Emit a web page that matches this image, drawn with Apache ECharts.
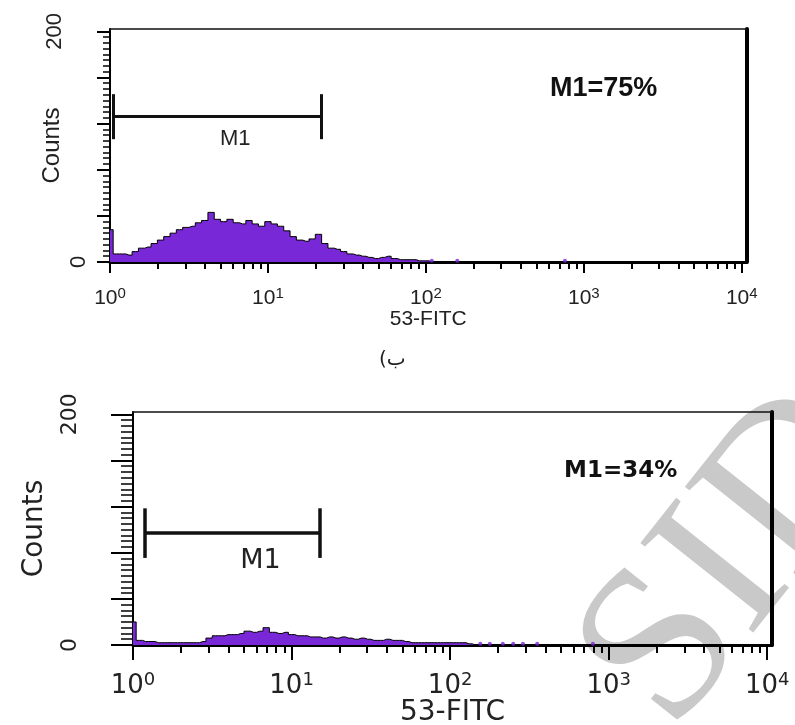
<!DOCTYPE html>
<html>
<head>
<meta charset="utf-8">
<script src="https://cdn.jsdelivr.net/npm/echarts@6/dist/echarts.min.js"></script>
<style>
html, body { margin: 0; padding: 0; background: #fff; }
#chart { width: 795px; height: 725px; }
</style>
</head>
<body>
<div id="chart"></div>
<script>
// channel bins are 0.04 decade wide, starting at 10^0
var binStep = 0.04;
var topCounts = [28, 7, 7, 6, 9, 12, 13, 16, 19, 22, 25, 28, 30, 31, 34, 36, 43, 37, 35, 37,
    34, 33, 36, 33, 31, 35, 33, 31, 27, 22, 19, 18, 20, 24, 16, 12, 11, 9, 7, 6,
    5, 4, 3, 4, 5, 3, 2, 2, 2, 1, 1, 0, 0];
var bottomCounts = [20, 4, 3, 3, 2, 2, 2, 2, 2, 2, 2, 3, 6, 8, 8, 9, 9, 10, 12, 11,
    12, 15, 11, 10, 11, 9, 8, 8, 7, 7, 6, 7, 6, 7, 6, 5, 6, 5, 4, 4,
    5, 4, 4, 3, 2, 2, 2, 2, 2, 2, 2, 2, 2, 1, 0, 0];
// single events further right
var topDots = [109, 158, 759];
var bottomDots = [155, 178, 215, 250, 288, 354, 795];

var decades = [1, 10, 100, 1000, 10000];
var minorTicks = [2, 3, 4, 5, 6, 7, 8, 9, 20, 30, 40, 50, 60, 70, 80, 90,
    200, 300, 400, 500, 600, 700, 800, 900, 2000, 3000, 4000, 5000, 6000, 7000, 8000, 9000];
var yLabelLow = [0];
var yLabelHigh = [200];
var yMajor = [0, 40, 80, 120, 160, 200];
var yMinor = [5, 10, 15, 20, 25, 30, 35, 45, 50, 55, 60, 65, 70, 75, 85, 90, 95, 100, 105, 110, 115,
    125, 130, 135, 140, 145, 150, 155, 165, 170, 175, 180, 185, 190, 195];

// M1 gates: [left, right] on FITC, height in counts
var topGate = [1.05, 21.7], topGateY = 126, topGateBar = 19.5;
var bottomGate = [1.19, 15.1], bottomGateY = 97, bottomGateBar = 21.5;

var xMax = Math.pow(10, 4.03);
var yMax = 202;
var purple = '#7828d6';

function histData(counts) {
    var d = [];
    for (let k = 0; k < counts.length; k++) {
        d.push([Math.pow(10, k * binStep), counts[k]]);
    }
    return d;
}

function gateLines(g, y, h, labelOffset, fs, ff, dist) {
    return [
        [{ coord: [g[0], y], label: { show: true, formatter: 'M1', position: 'insideMiddleBottom',
            offset: [labelOffset, 0], color: '#222', fontSize: fs, fontFamily: ff, distance: dist } },
         { coord: [g[1], y] }],
        [{ coord: [g[0], y - h] }, { coord: [g[0], y + h] }],
        [{ coord: [g[1], y - h] }, { coord: [g[1], y + h] }]
    ];
}

function labelFmt(v) {
    return '{b|10}{s|' + Math.round(Math.log10(v)) + '}';
}

function mainX(grid, fs, sfs, ff, tickLen, margin, nameFs, nameGap, lineW) {
    return {
        type: 'log', gridIndex: grid, min: 1, max: xMax, position: 'bottom',
        axisLine: { onZero: false, lineStyle: { color: '#000', width: lineW } },
        axisTick: { customValues: decades, length: tickLen, lineStyle: { color: '#000', width: 2 } },
        axisLabel: {
            customValues: decades, margin: margin, formatter: labelFmt,
            rich: {
                b: { fontSize: fs, fontFamily: ff, color: '#222', lineHeight: fs + 4 },
                s: { fontSize: sfs, fontFamily: ff, color: '#222', verticalAlign: 'top', lineHeight: sfs }
            }
        },
        splitLine: { show: false },
        name: '53-FITC', nameLocation: 'middle', nameGap: nameGap, nameMoveOverlap: false,
        nameTextStyle: { fontSize: nameFs, fontFamily: ff, color: '#222' }
    };
}

function minorX(grid, tickLen) {
    return {
        type: 'log', gridIndex: grid, min: 1, max: xMax, position: 'bottom',
        axisLine: { show: false, onZero: false },
        axisTick: { customValues: minorTicks, length: tickLen, lineStyle: { color: '#000', width: 2 } },
        axisLabel: { show: false },
        splitLine: { show: false }
    };
}

function borderX(grid) {
    return {
        type: 'log', gridIndex: grid, min: 1, max: xMax, position: 'top',
        axisLine: { show: true, onZero: false, lineStyle: { color: '#111', width: 1.5 } },
        axisTick: { show: false }, axisLabel: { show: false }, splitLine: { show: false }
    };
}

// major ticks, axis line, the 200 label and the "Counts" name
function mainY(grid, tickLen, fs, ff, margin, nameFs, nameGap) {
    return {
        type: 'value', gridIndex: grid, min: 0, max: yMax, position: 'left',
        axisLine: { show: true, onZero: false, lineStyle: { color: '#000', width: 2 } },
        axisTick: { show: true, customValues: yMajor, length: tickLen, lineStyle: { color: '#000', width: 2 } },
        axisLabel: { customValues: yLabelHigh, rotate: 90, margin: margin,
            fontSize: fs, fontFamily: ff, color: '#222' },
        splitLine: { show: false },
        name: 'Counts', nameLocation: 'middle', nameRotate: 90, nameGap: nameGap, nameMoveOverlap: false,
        nameTextStyle: { fontSize: nameFs, fontFamily: ff, color: '#222' }
    };
}

// minor ticks and the 0 label
function minorY(grid, tickLen, fs, ff, margin) {
    return {
        type: 'value', gridIndex: grid, min: 0, max: yMax, position: 'left',
        axisLine: { show: false, onZero: false },
        axisTick: { show: true, customValues: yMinor, length: tickLen, lineStyle: { color: '#000', width: 1.5 } },
        axisLabel: { customValues: yLabelLow, rotate: 90, margin: margin,
            fontSize: fs, fontFamily: ff, color: '#222' },
        splitLine: { show: false }
    };
}

function borderY(grid) {
    return {
        type: 'value', gridIndex: grid, min: 0, max: yMax, position: 'right',
        axisLine: { show: true, onZero: false, lineStyle: { color: '#000', width: 4 } },
        axisTick: { show: false }, axisLabel: { show: false }, splitLine: { show: false }
    };
}

function histSeries(xi, yi, counts, dots, gate, gy, gh, lblOff, fs, ff, gw, dist) {
    return [{
        type: 'line', xAxisIndex: xi, yAxisIndex: yi, step: 'middle',
        showSymbol: false, data: histData(counts),
        lineStyle: { color: '#000', width: 1 },
        areaStyle: { color: purple, opacity: 1 },
        markLine: {
            silent: true, symbol: 'none', animation: false,
            lineStyle: { color: '#111', width: gw, type: 'solid' },
            label: { show: false },
            data: gateLines(gate, gy, gh, lblOff, fs, ff, dist)
        },
        z: 3
    }, {
        type: 'scatter', xAxisIndex: xi, yAxisIndex: yi, symbolSize: 4,
        itemStyle: { color: purple },
        data: dots.map(function (v) { return [v, 1]; }), z: 3
    }];
}

var myChart = echarts.init(document.getElementById('chart'));

var option = {
    animation: false,
    backgroundColor: '#fff',
    grid: [
        { left: 110, right: 48.5, top: 29, height: 233, outerBoundsMode: 'none' },
        { left: 110, right: 48.5, top: 29, height: 233, outerBoundsMode: 'none' },
        { left: 133, right: 23, top: 412, height: 233, outerBoundsMode: 'none' },
        { left: 133, right: 23, top: 412, height: 233, outerBoundsMode: 'none' }
    ],
    xAxis: [
        mainX(0, 21, 15, 'Liberation Sans', 11, 24, 21, 47, 3),
        borderX(0),
        minorX(1, 7),
        mainX(2, 26, 18, 'DejaVu Sans', 15, 26, 28, 54, 3),
        borderX(2),
        minorX(3, 8)
    ],
    yAxis: [
        mainY(0, 13, 22, 'Liberation Sans', 44, 24, 46),
        borderY(0),
        minorY(1, 7, 22, 'Liberation Sans', 20),
        mainY(2, 22, 22, 'DejaVu Sans', 52, 28, 84),
        borderY(2),
        minorY(3, 12, 22, 'DejaVu Sans', 52)
    ],
    title: [
        { text: 'M1=75%', left: 545, top: 70,
          textStyle: { fontSize: 27, fontWeight: 'bold', fontFamily: 'Liberation Sans', color: '#111' } },
        { text: 'M1=34%', left: 559, top: 455,
          textStyle: { fontSize: 23, fontWeight: 'bold', fontFamily: 'DejaVu Sans', color: '#111' } },
        { text: '(ب', left: 374, top: 345,
          textStyle: { fontSize: 20, fontWeight: 'normal', fontFamily: 'DejaVu Sans', color: '#222' } }
    ],
    graphic: [{
        type: 'text', x: 713, y: 767, rotation: 0.9, z: -10, silent: true,
        style: { text: 'SID', font: '220px "Liberation Serif"', fill: '#c9c9c9', verticalAlign: 'bottom' }
    }],
    series: [].concat(
        histSeries(0, 0, topCounts, topDots, topGate, topGateY, topGateBar, 18, 22, 'Liberation Sans', 3, 11),
        histSeries(3, 3, bottomCounts, bottomDots, bottomGate, bottomGateY, bottomGateBar, 28, 27, 'DejaVu Sans', 3.5, 14)
    )
};

myChart.setOption(option, true);
</script>
</body>
</html>
